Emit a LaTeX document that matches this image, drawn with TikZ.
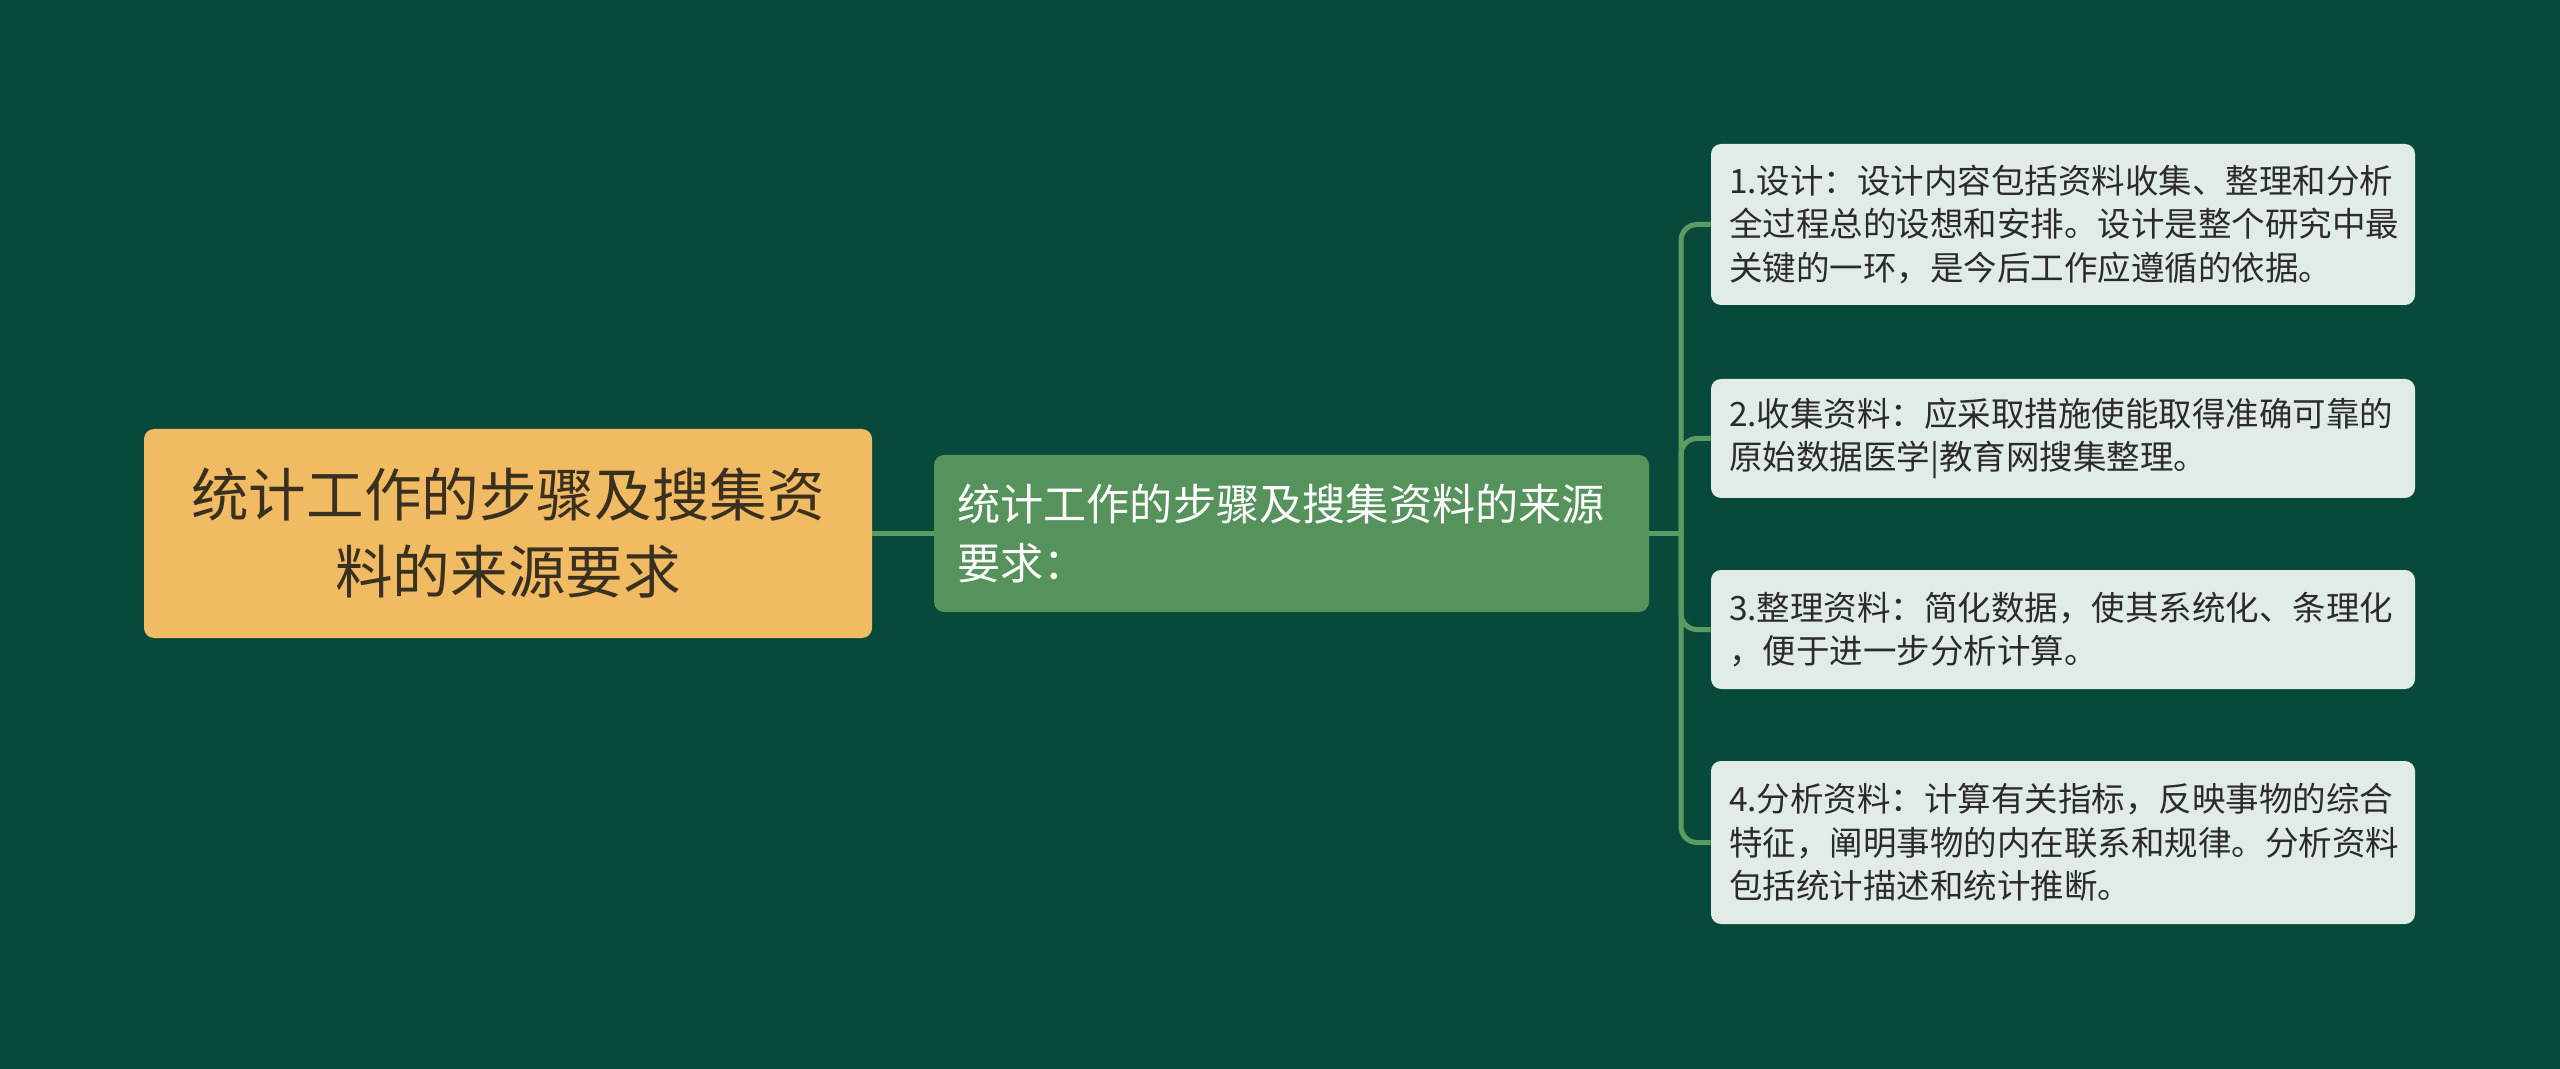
\documentclass[tikz,border=0pt]{standalone}
\usepackage{fontspec}
\setmainfont{Noto Sans CJK SC}
\definecolor{bg}{HTML}{07493A}
\definecolor{rootfill}{HTML}{F0BB62}
\definecolor{roottext}{HTML}{3A3020}
\definecolor{midfill}{HTML}{56925B}
\definecolor{leaffill}{HTML}{E1EDE4}
\definecolor{leaftext}{HTML}{2B2B2B}
\definecolor{linkc}{HTML}{5C9C62}
\tikzset{
  rootbox/.style={fill=rootfill, rounded corners=5pt, text=roottext, align=center,
    minimum width=364pt, minimum height=104.5pt, inner sep=0pt,
    font=\fontsize{28.8}{38.5}\selectfont},
  midbox/.style={fill=midfill, rounded corners=5pt, text=white, align=left,
    minimum height=78.5pt, inner xsep=11.5pt, inner ysep=0pt, text width=334.5pt,
    font=\fontsize{21.6}{29.5}\selectfont},
  leafbox/.style={fill=leaffill, rounded corners=5pt, text=leaftext, align=left,
    inner xsep=9pt, inner ysep=0pt, text width=334pt,
    font=\fontsize{16.75}{21.65}\selectfont},
  link/.style={draw=linkc, line width=2.5pt, rounded corners=8pt}
}
\begin{document}
\begin{tikzpicture}[x=0.5pt,y=-0.5pt]
\fill[bg] (0,0) rectangle (2560,1069);
\useasboundingbox (0,0) rectangle (2560,1069);
\node[rootbox] (root) at (508,533.5) {统计工作的步骤及搜集资\\料的来源要求};
\node[midbox] (mid) at (1291.5,533.5) {统计工作的步骤及搜集资料的来源\\要求：};
\node[leafbox, minimum height=80.5pt] (l1) at (2063,224.5) {1.设计：设计内容包括资料收集、整理和分析\\全过程总的设想和安排。设计是整个研究中最\\关键的一环，是今后工作应遵循的依据。};
\node[leafbox, minimum height=59.5pt] (l2) at (2063,438.5) {2.收集资料：应采取措施使能取得准确可靠的\\原始数据医学|教育网搜集整理。};
\node[leafbox, minimum height=59.5pt] (l3) at (2063,629.5) {3.整理资料：简化数据，使其系统化、条理化\\，便于进一步分析计算。};
\node[leafbox, minimum height=81.5pt] (l4) at (2063,842.5) {4.分析资料：计算有关指标，反映事物的综合\\特征，阐明事物的内在联系和规律。分析资料\\包括统计描述和统计推断。};
\coordinate (t) at (1681,533.5);
\draw[link] (root.east) -- (mid.west);
\draw[link] (mid.east) -- (t);
\foreach \n in {l1,l2,l3,l4}{
  \draw[link] (t) |- (\n.west);
}
\end{tikzpicture}
\end{document}
